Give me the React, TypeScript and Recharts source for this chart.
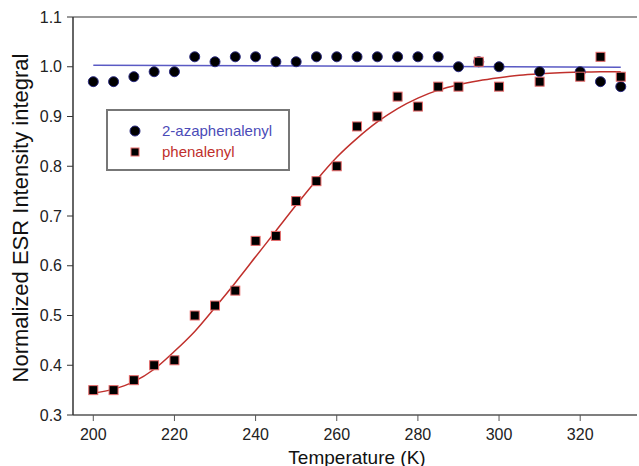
import {
  ComposedChart,
  Line,
  Scatter,
  XAxis,
  YAxis,
  ReferenceLine,
} from "recharts";

const temps = [
  200, 205, 210, 215, 220, 225, 230, 235, 240, 245, 250, 255, 260, 265, 270,
  275, 280, 285, 290, 295, 300, 310, 320, 325, 330,
];
const azaValues = [
  0.97, 0.97, 0.98, 0.99, 0.99, 1.02, 1.01, 1.02, 1.02, 1.01, 1.01, 1.02, 1.02,
  1.02, 1.02, 1.02, 1.02, 1.02, 1.0, 1.01, 1.0, 0.99, 0.99, 0.97, 0.96,
];
const phenValues = [
  0.35, 0.35, 0.37, 0.4, 0.41, 0.5, 0.52, 0.55, 0.65, 0.66, 0.73, 0.77, 0.8,
  0.88, 0.9, 0.94, 0.92, 0.96, 0.96, 1.01, 0.96, 0.97, 0.98, 1.02, 0.98,
];

// fitted curves
const fitTemps = [
  200, 205, 210, 215, 220, 225, 230, 235, 240, 245, 250, 255, 260, 265, 270,
  275, 280, 285, 290, 295, 300, 305, 310, 315, 320, 325, 330,
];
const phenFit = [
  0.344, 0.352, 0.367, 0.392, 0.428, 0.468, 0.516, 0.566, 0.618, 0.67, 0.722,
  0.772, 0.818, 0.856, 0.889, 0.916, 0.937, 0.953, 0.964, 0.972, 0.978, 0.983,
  0.986, 0.988, 0.989, 0.99, 0.99,
];
const azaFitTemps = [200, 330];
const azaFit = [1.003, 0.999];

const xTicks = [200, 220, 240, 260, 280, 300, 320];
const yTicks = [0.3, 0.4, 0.5, 0.6, 0.7, 0.8, 0.9, 1.0, 1.1];

const azaPoints = temps.map((t, i) => ({ x: t, y: azaValues[i] }));
const phenPoints = temps.map((t, i) => ({ x: t, y: phenValues[i] }));
const phenFitPoints = fitTemps.map((t, i) => ({ x: t, y: phenFit[i] }));
const azaFitPoints = azaFitTemps.map((t, i) => ({ x: t, y: azaFit[i] }));

const FONT = "'Liberation Sans', Arial, sans-serif";
const BLUE = "#4b4bb8";
const RED = "#c0302c";

const Circle = (props: any) => (
  <circle cx={props.cx} cy={props.cy} r={5} fill="#000" stroke="#2a2a80" strokeWidth={1} />
);

const Square = (props: any) => (
  <rect
    x={props.cx - 4.5}
    y={props.cy - 4.5}
    width={9}
    height={9}
    fill="#000"
    stroke="#e86a6a"
    strokeWidth={1}
  />
);

// legend box drawn over the plot, like the original figure
const LegendBox = () => (
  <div
    style={{
      position: "absolute",
      left: 106,
      top: 109,
      width: 184,
      height: 62,
      border: "2px solid #777",
      background: "#fff",
      fontFamily: FONT,
      fontSize: 15,
      boxSizing: "border-box",
      paddingTop: 9,
    }}
  >
    <div style={{ display: "flex", alignItems: "center", height: 21 }}>
      <svg width={54} height={14}>
        <circle cx={27} cy={7} r={5} fill="#000" stroke="#2a2a80" />
      </svg>
      <span style={{ color: BLUE }}>2-azaphenalenyl</span>
    </div>
    <div style={{ display: "flex", alignItems: "center", height: 21 }}>
      <svg width={54} height={14}>
        <rect x={23} y={3} width={8} height={8} fill="#000" stroke="#e86a6a" />
      </svg>
      <span style={{ color: RED }}>phenalenyl</span>
    </div>
  </div>
);

export default function App() {
  return (
    <div
      style={{
        position: "absolute",
        left: 0,
        top: 0,
        width: 639,
        height: 466,
        background: "#fff",
        overflow: "hidden",
      }}
    >
      <ComposedChart
        width={639}
        height={466}
        margin={{ top: 17, right: 2, left: 0, bottom: 0 }}
      >
        <XAxis
          type="number"
          dataKey="x"
          domain={[195, 334]}
          ticks={xTicks}
          allowDataOverflow
          height={51}
          tickSize={6}
          tickMargin={8}
          axisLine={{ stroke: "#555", strokeWidth: 1.5 }}
          tickLine={{ stroke: "#555" }}
          tick={{ fill: "#222", fontSize: 16, fontFamily: FONT }}
          label={{
            content: () => (
              <text
                x={357}
                y={457}
                textAnchor="middle"
                dominantBaseline="central"
                fill="#111"
                fontSize={19}
                fontFamily={FONT}
              >
                Temperature (K)
              </text>
            ),
          }}
        />
        <YAxis
          type="number"
          dataKey="y"
          domain={[0.3, 1.1]}
          ticks={yTicks}
          width={73}
          tickSize={6}
          tickMargin={5}
          tickFormatter={(v: number) => v.toFixed(1)}
          axisLine={{ stroke: "#333", strokeWidth: 1.5 }}
          tickLine={{ stroke: "#333" }}
          tick={{ fill: "#222", fontSize: 16, fontFamily: FONT }}
          label={{
            content: () => (
              <text
                x={20}
                y={218}
                transform="rotate(-90 20 218)"
                textAnchor="middle"
                dominantBaseline="central"
                fill="#111"
                fontSize={22}
                fontFamily={FONT}
              >
                Normalized ESR Intensity integral
              </text>
            ),
          }}
        />
        <ReferenceLine y={1.1} stroke="#777" strokeWidth={1.5} />
        <Line
          data={azaFitPoints}
          dataKey="y"
          type="linear"
          stroke="#5a5ac4"
          strokeWidth={1.5}
          dot={false}
          isAnimationActive={false}
        />
        <Line
          data={phenFitPoints}
          dataKey="y"
          type="monotone"
          stroke={RED}
          strokeWidth={1.5}
          dot={false}
          isAnimationActive={false}
        />
        <Scatter
          name="2-azaphenalenyl"
          data={azaPoints}
          shape={Circle}
          isAnimationActive={false}
        />
        <Scatter
          name="phenalenyl"
          data={phenPoints}
          shape={Square}
          isAnimationActive={false}
        />
      </ComposedChart>
      <LegendBox />
    </div>
  );
}
